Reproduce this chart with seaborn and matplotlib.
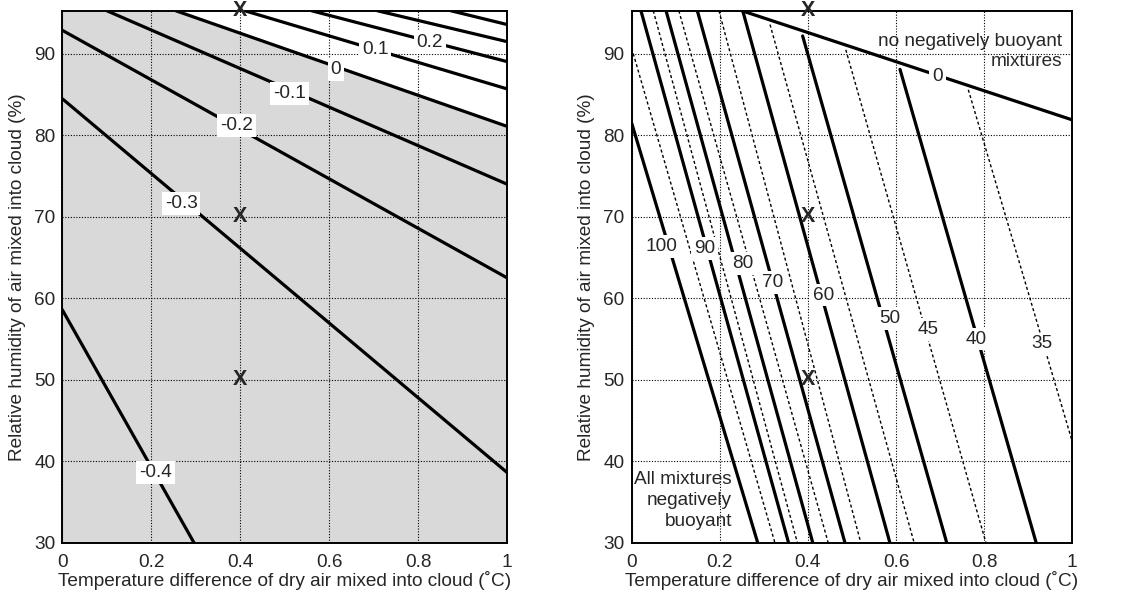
import numpy as np
import pandas as pd
import matplotlib
matplotlib.use("Agg")
import matplotlib.pyplot as plt
import seaborn as sns

# Left panel: buoyancy contours (straight lines)
left_levels = [-0.4, -0.3, -0.2, -0.1, 0, 0.1, 0.2, 0.3, 0.4]
left_x0 = [0.0, 0.0, 0.0, 0.10, 0.255, 0.41, 0.56, 0.708, 0.873]
left_y0 = [58.6, 84.5, 92.9, 95.3, 95.3, 95.3, 95.3, 95.3, 95.3]
left_x1 = [0.296, 1.0, 1.0, 1.0, 1.0, 1.0, 1.0, 1.0, 1.0]
left_y1 = [30.0, 38.6, 62.5, 74.0, 81.1, 85.7, 89.05, 91.5, 93.6]
left_labels = ["-0.4", "-0.3", "-0.2", "-0.1", "0", "0.1", "0.2"]
left_lab_x = [0.21, 0.267, 0.392, 0.51, 0.615, 0.703, 0.826]
left_lab_y = [38.6, 71.6, 81.2, 85.1, 88.1, 90.5, 91.4]

# Right panel: solid contours
right_solid = [0, 100, 90, 80, 70, 60, 50, 40]
rs_x0 = [0.25, 0.0, 0.021, 0.078, 0.149, 0.252, 0.388, 0.609]
rs_y0 = [95.3, 81.5, 95.3, 95.3, 95.3, 95.3, 92.2, 88.1]
rs_x1 = [1.0, 0.286, 0.356, 0.411, 0.484, 0.586, 0.715, 0.918]
rs_y1 = [81.9, 30, 30, 30, 30, 30, 30, 30]

# Right panel: dashed contours
right_dashed = [95, 85, 75, 65, 55, 45, 35]
rd_x0 = [0.0, 0.049, 0.107, 0.198, 0.314, 0.486, 0.764]
rd_y0 = [90.7, 95.3, 95.3, 95.3, 93.6, 90.5, 85.6]
rd_x1 = [0.325, 0.376, 0.446, 0.520, 0.641, 0.804, 1.0]
rd_y1 = [30, 30, 30, 30, 30, 30, 42.4]

right_labels = ["100", "90", "80", "70", "60", "50", "45", "40", "35", "0"]
right_lab_x = [0.068, 0.166, 0.252, 0.321, 0.435, 0.585, 0.672, 0.783, 0.932, 0.694]
right_lab_y = [66.4, 66.1, 64.3, 61.9, 60.4, 57.5, 56.2, 55.0, 54.4, 87.2]

# sample points marked with X
mark_x = [0.4, 0.4, 0.4]
mark_y = [95.3, 70, 50]

xticks = [0, 0.2, 0.4, 0.6, 0.8, 1]
xticklabels = ["0", "0.2", "0.4", "0.6", "0.8", "1"]
yticks = [30, 40, 50, 60, 70, 80, 90]


def segments(levels, x0, y0, x1, y1):
    rows = []
    for lev, a, b, c, d in zip(levels, x0, y0, x1, y1):
        rows.append({"level": lev, "x": a, "y": b})
        rows.append({"level": lev, "x": c, "y": d})
    return pd.DataFrame(rows)


sns.set_style("white")
plt.rcParams["font.family"] = ["Liberation Sans", "DejaVu Sans"]
fs = 13.7

fig = plt.figure(figsize=(11.26, 5.96), dpi=100)
ax1 = fig.add_axes([0.0553, 0.0894, 0.3952, 0.8926])
ax2 = fig.add_axes([0.561, 0.0894, 0.3913, 0.8926])

# left panel
ax1.fill_between([0, left_x0[4], 1], [95.3, 95.3, left_y1[4]], 30,
                 color="#d9d9d9", lw=0, zorder=0.2)
sns.lineplot(data=segments(left_levels, left_x0, left_y0, left_x1, left_y1),
             x="x", y="y", units="level", estimator=None, sort=False,
             color="black", lw=2.3, ax=ax1)
for t, x, y in zip(left_labels, left_lab_x, left_lab_y):
    ax1.text(x, y, t, fontsize=fs, ha="center", va="center", zorder=5,
             bbox=dict(facecolor="white", edgecolor="none", pad=2))

# right panel
sns.lineplot(data=segments(right_solid, rs_x0, rs_y0, rs_x1, rs_y1),
             x="x", y="y", units="level", estimator=None, sort=False,
             color="black", lw=2.3, ax=ax2)
sns.lineplot(data=segments(right_dashed, rd_x0, rd_y0, rd_x1, rd_y1),
             x="x", y="y", units="level", estimator=None, sort=False,
             color="black", lw=1.0, dashes=False, ax=ax2)
for ln in ax2.lines[len(right_solid):]:
    ln.set_linestyle((0, (2.2, 1.8)))
for t, x, y in zip(right_labels, right_lab_x, right_lab_y):
    ax2.text(x, y, t, fontsize=fs, ha="center", va="center", zorder=5,
             bbox=dict(facecolor="white", edgecolor="none", pad=2))
ax2.text(0.977, 90.3, "no negatively buoyant\nmixtures", fontsize=fs,
         ha="right", va="center", linespacing=1.2, zorder=4)
ax2.text(0.227, 35.2, "All mixtures\nnegatively\nbuoyant", fontsize=fs,
         ha="right", va="center", linespacing=1.3, zorder=4)

for ax in (ax1, ax2):
    for x, y in zip(mark_x, mark_y):
        ax.text(x, y, "X", fontsize=15.5, fontweight="bold", ha="center",
                va="center", zorder=6, clip_on=False)
    ax.set_xlim(0, 1)
    ax.set_ylim(30, 95.3)
    ax.set_xticks(xticks)
    ax.set_xticklabels(xticklabels)
    ax.set_yticks(yticks)
    ax.tick_params(axis="x", labelsize=fs, length=0, pad=8)
    ax.tick_params(axis="y", labelsize=fs, length=0, pad=5)
    ax.grid(True, ls=(0, (1, 1.5)), color="black", lw=0.8)
    ax.set_axisbelow(True)
    for s in ax.spines.values():
        s.set_color("black")
        s.set_linewidth(1.4)
    ax.set_xlabel("Temperature difference of dry air mixed into cloud (˚C)",
                  fontsize=fs, labelpad=0)
    ax.set_ylabel("Relative humidity of air mixed into cloud (%)",
                  fontsize=fs, labelpad=6)

fig.savefig("out.png", dpi=100)
